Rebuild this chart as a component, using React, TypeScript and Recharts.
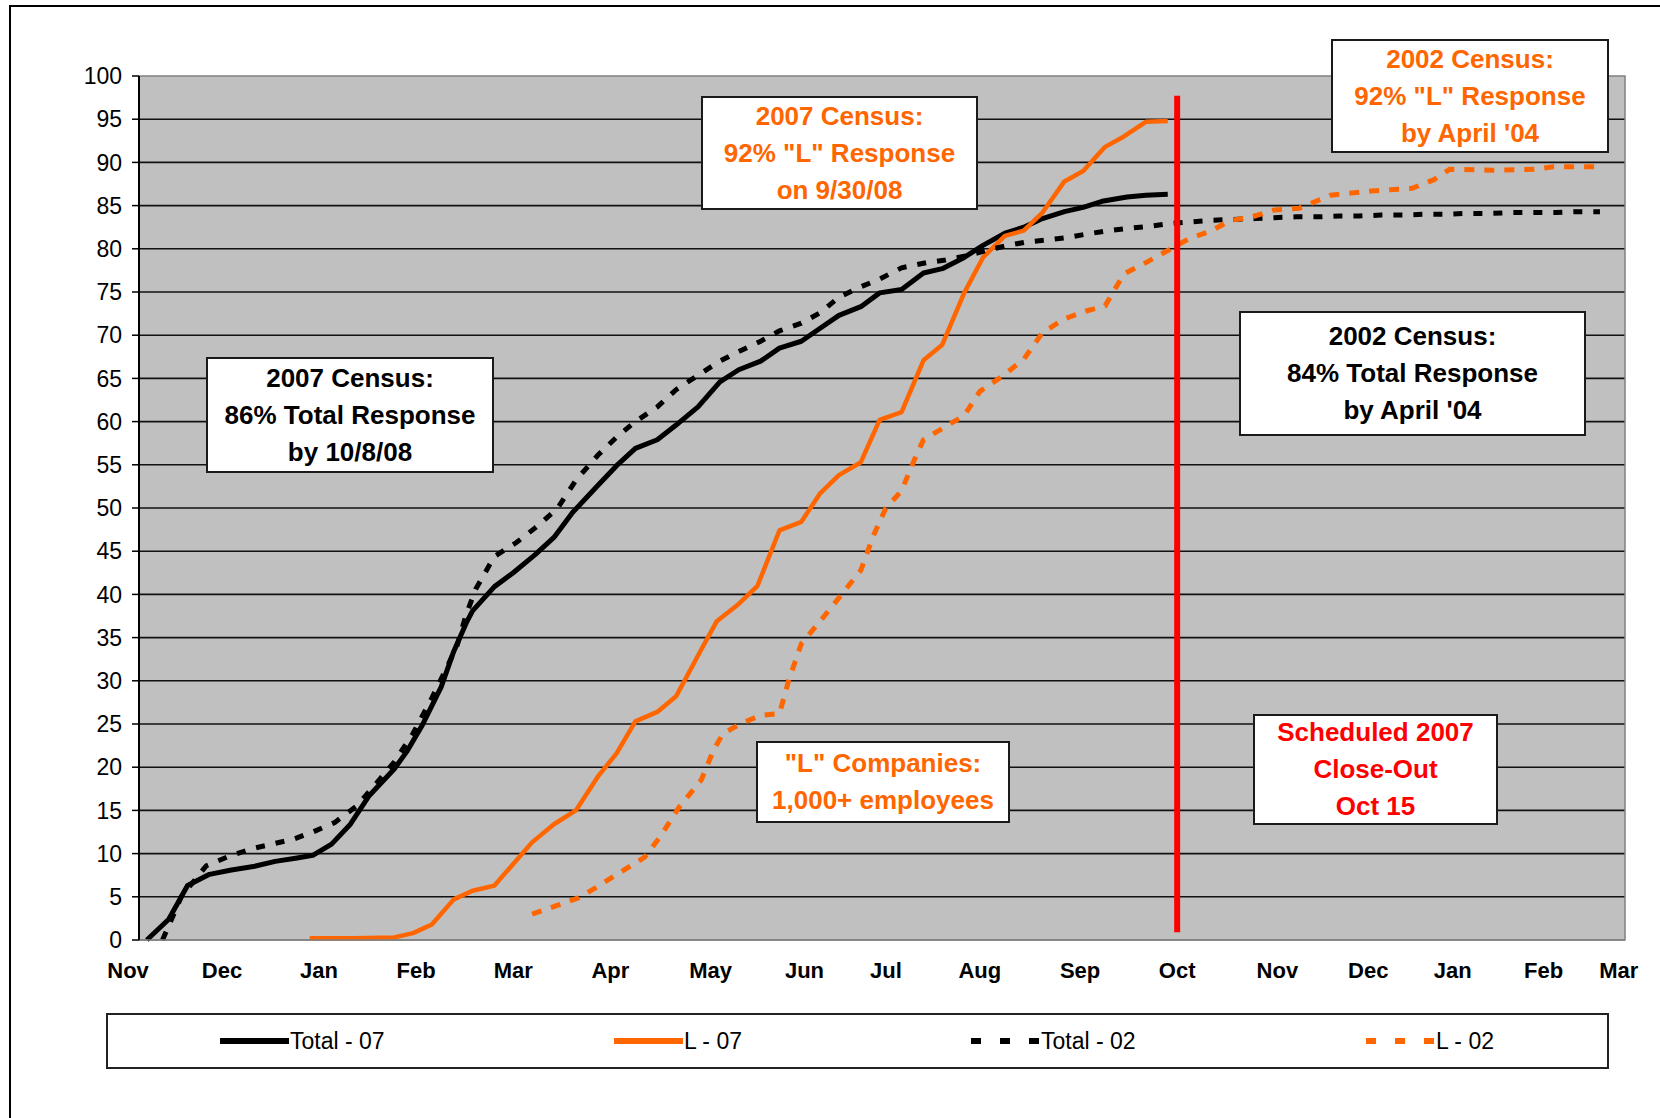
import React from "react";
import {
  CartesianGrid,
  Line,
  LineChart,
  ReferenceArea,
  ReferenceLine,
  XAxis,
  YAxis,
} from "recharts";

// x = days counted from Nov 1 (2002 census series laid on the same calendar)
const monthTickDays = [0, 30, 61, 92, 123, 154, 186, 216, 242, 272, 304, 335, 367, 396, 423, 452, 476];
const monthLabels = ["Nov", "Dec", "Jan", "Feb", "Mar", "Apr", "May", "Jun", "Jul", "Aug", "Sep", "Oct", "Nov", "Dec", "Jan", "Feb", "Mar"];
const yTicks = [0, 5, 10, 15, 20, 25, 30, 35, 40, 45, 50, 55, 60, 65, 70, 75, 80, 85, 90, 95, 100];
const gridValues = [5, 10, 15, 20, 25, 30, 35, 40, 45, 50, 55, 60, 65, 70, 75, 80, 85, 90, 95];

const closeOutDay = 335;

const total07: [number, number][] = [
  [6, 0], [13, 2.4], [19, 6.3], [26, 7.6], [33, 8.1], [40, 8.5], [47, 9.1], [54, 9.5], [59, 9.8],
  [65, 11.1], [71, 13.4], [77, 16.7], [85, 19.8], [89, 21.8], [94, 24.9], [100, 29.3], [104, 33.4],
  [108, 36.7], [110, 38.1], [117, 40.9], [123, 42.5], [130, 44.6], [136, 46.6], [142, 49.5],
  [150, 52.6], [156, 54.9], [162, 56.9], [169, 57.9], [175, 59.6], [182, 61.7], [189, 64.6],
  [195, 66], [202, 67], [208, 68.5], [215, 69.3], [221, 70.8], [227, 72.3], [234, 73.3],
  [240, 74.9], [247, 75.3], [254, 77.2], [260, 77.7], [267, 79], [273, 80.4], [280, 81.8],
  [286, 82.5], [292, 83.5], [299, 84.3], [305, 84.8], [311, 85.5], [319, 86], [325, 86.2], [332, 86.3],
];

const l07: [number, number][] = [
  [58, 0.2], [72, 0.2], [85, 0.3], [91, 0.8], [97, 1.8], [104, 4.7], [110, 5.7], [117, 6.3],
  [123, 8.8], [129, 11.3], [136, 13.4], [143, 15], [150, 18.9], [156, 21.6], [162, 25.3],
  [169, 26.4], [175, 28.2], [183, 33.6], [188, 36.9], [195, 38.9], [201, 41], [208, 47.4],
  [215, 48.4], [221, 51.7], [227, 53.8], [234, 55.3], [240, 60.2], [247, 61.1], [254, 67.1],
  [260, 68.9], [267, 74.9], [273, 79], [280, 81.5], [286, 82.1], [292, 84.2], [299, 87.8],
  [305, 89], [312, 91.8], [318, 93], [325, 94.7], [332, 94.8],
];

const total02: [number, number][] = [
  [11, 0], [17, 5], [25, 8.6], [33, 9.8], [40, 10.6], [46, 11.1], [53, 11.7], [59, 12.5],
  [66, 13.6], [73, 15.5], [79, 18], [85, 20.6], [91, 23.9], [97, 28], [102, 31.7], [105, 34],
  [108, 37.7], [111, 40.6], [117, 44.4], [124, 46], [130, 47.7], [137, 49.9], [143, 53.2],
  [150, 56.1], [156, 58.2], [162, 60], [169, 61.7], [175, 63.7], [183, 65.6], [189, 67],
  [195, 68.1], [202, 69.3], [208, 70.5], [215, 71.4], [221, 72.6], [227, 74.4], [234, 75.6],
  [240, 76.5], [247, 77.8], [255, 78.4], [261, 78.7], [268, 79.2], [274, 79.8], [281, 80.4],
  [287, 80.8], [293, 81], [300, 81.3], [306, 81.7], [313, 82.1], [320, 82.4], [326, 82.6],
  [332, 82.9], [339, 83.1], [346, 83.3], [353, 83.4], [360, 83.5], [366, 83.6], [373, 83.7],
  [380, 83.7], [387, 83.8], [393, 83.8], [400, 83.9], [407, 83.9], [414, 84], [421, 84],
  [428, 84.1], [435, 84.1], [442, 84.2], [449, 84.2], [456, 84.2], [463, 84.3], [470, 84.3],
];

const l02: [number, number][] = [
  [129, 3], [137, 4], [144, 4.9], [150, 6.2], [157, 7.8], [165, 9.6], [170, 12], [176, 15.4],
  [183, 18.5], [187, 22], [190, 23.9], [196, 25.1], [202, 26], [208, 26.2], [211, 30.1],
  [215, 34.3], [221, 36.9], [227, 39.6], [234, 42.8], [238, 46.8], [242, 50], [247, 52],
  [251, 55.5], [254, 57.9], [260, 59.2], [267, 60.7], [272, 63.5], [279, 65.2], [286, 67.2],
  [292, 70.3], [299, 71.9], [306, 72.8], [312, 73.4], [318, 77.1], [325, 78.4], [333, 80],
  [339, 81.2], [346, 82.1], [352, 83.3], [358, 83.6], [366, 84.5], [374, 84.7], [378, 85.3],
  [384, 86.2], [397, 86.7], [410, 87], [417, 88], [422, 89.2], [436, 89.1], [449, 89.2],
  [455, 89.5], [469, 89.5],
];

const FONT = '"Liberation Sans", Arial, Helvetica, sans-serif';
const ORANGE = "#FF6600";
const RED = "#FF0000";

const pts = (rows: [number, number][]) => rows.map(([d, v]) => ({ d, v }));

function Note({
  x, y, w, h, color, lines,
}: { x: number; y: number; w: number; h: number; color: string; lines: string[] }) {
  return (
    <div
      style={{
        position: "absolute", left: x, top: y, width: w, height: h, boxSizing: "border-box",
        border: "2px solid #1a1a1a", background: "#fff", color, fontWeight: 700, fontSize: 26,
        lineHeight: "37px", display: "flex", flexDirection: "column", justifyContent: "center",
        alignItems: "center", textAlign: "center", whiteSpace: "nowrap",
      }}
    >
      {lines.map((l) => (
        <div key={l}>{l}</div>
      ))}
    </div>
  );
}

function LegendItem({
  x, label, color, dash,
}: { x: number; label: string; color: string; dash?: string }) {
  return (
    <div style={{ position: "absolute", left: x, top: 1026, height: 30, display: "flex", alignItems: "center" }}>
      <svg width={69} height={10}>
        <line x1={0} y1={5} x2={69} y2={5} stroke={color} strokeWidth={6} strokeDasharray={dash} />
      </svg>
      <span style={{ fontSize: 23, color: "#000", marginLeft: 1 }}>{label}</span>
    </div>
  );
}

export default function App() {
  return (
    <div
      style={{
        position: "absolute", left: 0, top: 0, width: 1660, height: 1118, background: "#fff",
        fontFamily: FONT, overflow: "hidden",
      }}
    >
      <div
        style={{
          position: "absolute", left: 9, top: 5, width: 1700, height: 1200,
          borderTop: "2px solid #000", borderLeft: "2px solid #000",
        }}
      />
      <div style={{ position: "absolute", left: 0, top: 0 }}>
        <LineChart width={1660} height={1118} margin={{ top: 76, right: 35, bottom: 138, left: 79 }}>
          <CartesianGrid
            vertical={false}
            horizontalValues={gridValues}
            stroke="#111"
            strokeWidth={1.6}
            fill="#C0C0C0"
            fillOpacity={1}
          />
          <XAxis
            dataKey="d"
            type="number"
            domain={[3.5, 478]}
            ticks={monthTickDays}
            interval={0}
            tickFormatter={(v: number) => monthLabels[monthTickDays.indexOf(v)]}
            tick={{ fontSize: 22, fontWeight: 700, fill: "#000", fontFamily: FONT }}
            tickLine={false}
            tickMargin={16}
            axisLine={{ stroke: "#808080", strokeWidth: 1.5 }}
            height={40}
          />
          <YAxis
            type="number"
            domain={[0, 100]}
            ticks={yTicks}
            interval={0}
            tick={{ fontSize: 23, fill: "#000", fontFamily: FONT }}
            tickLine={{ stroke: "#000", strokeWidth: 1.5 }}
            tickSize={7}
            tickMargin={10}
            axisLine={{ stroke: "#000", strokeWidth: 2 }}
            width={60}
          />
          <ReferenceArea y1={0} y2={100} fill="none" stroke="#808080" strokeWidth={1.5} ifOverflow="visible" />
          <Line data={pts(total07)} dataKey="v" name="Total - 07" type="linear" stroke="#000" strokeWidth={5}
            dot={false} activeDot={false} isAnimationActive={false} strokeLinejoin="round" />
          <Line data={pts(l07)} dataKey="v" name="L - 07" type="linear" stroke={ORANGE} strokeWidth={4.5}
            dot={false} activeDot={false} isAnimationActive={false} strokeLinejoin="round" />
          <Line data={pts(total02)} dataKey="v" name="Total - 02" type="linear" stroke="#000" strokeWidth={5}
            strokeDasharray="9 11" dot={false} activeDot={false} isAnimationActive={false} />
          <Line data={pts(l02)} dataKey="v" name="L - 02" type="linear" stroke={ORANGE} strokeWidth={5}
            strokeDasharray="10 10" dot={false} activeDot={false} isAnimationActive={false} />
          <ReferenceLine
            segment={[{ x: closeOutDay, y: 97.7 }, { x: closeOutDay, y: 0.9 }]}
            stroke={RED}
            strokeWidth={6}
            ifOverflow="visible"
          />
        </LineChart>
      </div>

      <Note x={206} y={357} w={288} h={116} color="#000" lines={["2007 Census:", "86% Total Response", "by 10/8/08"]} />
      <Note x={701} y={96} w={277} h={114} color={ORANGE} lines={["2007 Census:", '92% "L" Response', "on 9/30/08"]} />
      <Note x={1331} y={39} w={278} h={114} color={ORANGE} lines={["2002 Census:", '92% "L" Response', "by April '04"]} />
      <Note x={1239} y={311} w={347} h={125} color="#000" lines={["2002 Census:", "84% Total Response", "by April '04"]} />
      <Note x={756} y={741} w={254} h={82} color={ORANGE} lines={['"L" Companies:', "1,000+ employees"]} />
      <Note x={1253} y={714} w={245} h={111} color={RED} lines={["Scheduled 2007", "Close-Out", "Oct 15"]} />

      <div
        style={{
          position: "absolute", left: 106, top: 1013, width: 1503, height: 56, boxSizing: "border-box",
          border: "2px solid #222", background: "#fff",
        }}
      />
      <LegendItem x={220} label="Total - 07" color="#000" />
      <LegendItem x={614} label="L - 07" color={ORANGE} />
      <LegendItem x={971} label="Total - 02" color="#000" dash="10 19" />
      <LegendItem x={1366} label="L - 02" color={ORANGE} dash="10 19" />
    </div>
  );
}
